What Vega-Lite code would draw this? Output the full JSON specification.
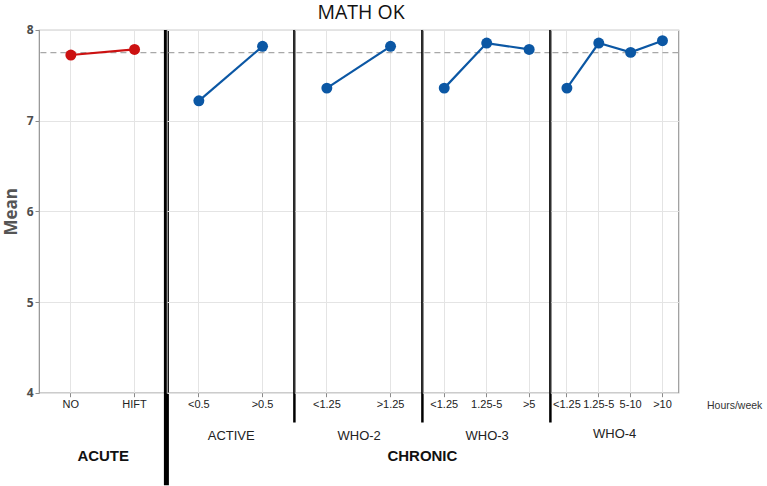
{
  "$schema": "https://vega.github.io/schema/vega-lite/v6.json",
  "padding": {"left": 1, "top": 2, "right": 0, "bottom": 0},
  "background": "white",
  "datasets": {
    "math": [
      {"grp": "ACUTE", "cat": "NO", "mean": 7.724},
      {"grp": "ACUTE", "cat": "HIFT", "mean": 7.786},
      {"grp": "ACTIVE", "cat": "<0.5", "mean": 7.219},
      {"grp": "ACTIVE", "cat": ">0.5", "mean": 7.82},
      {"grp": "WHO-2", "cat": "<1.25", "mean": 7.359},
      {"grp": "WHO-2", "cat": ">1.25", "mean": 7.82},
      {"grp": "WHO-3", "cat": "<1.25", "mean": 7.359},
      {"grp": "WHO-3", "cat": "1.25-5", "mean": 7.856},
      {"grp": "WHO-3", "cat": ">5", "mean": 7.786},
      {"grp": "WHO-4", "cat": "<1.25", "mean": 7.359},
      {"grp": "WHO-4", "cat": "1.25-5", "mean": 7.856},
      {"grp": "WHO-4", "cat": "5-10", "mean": 7.753},
      {"grp": "WHO-4", "cat": ">10", "mean": 7.882}
    ],
    "ref": [{"ref": 7.75}]
  },
  "title": {"text": "MATH OK", "font": "Open Sans", "fontSize": 19.5, "fontWeight": "normal", "color": "#111111", "anchor": "middle", "offset": 0, "dx": -21},
  "spacing": 0,
  "bounds": "flush",
  "config": {
    "view": {"stroke": "#9a9a9a", "strokeWidth": 1.2},
    "axis": {"gridColor": "#e4e4e4", "gridWidth": 1, "domainColor": "#9a9a9a", "tickColor": "#8a8a8a", "tickSize": 4, "labelFont": "Liberation Sans", "labelFontSize": 11, "labelColor": "#222222", "titleFont": "Liberation Sans", "titleFontWeight": "normal", "titleColor": "#222222"}
  },
  "hconcat": [
    {
      "width": 127.4,
      "height": 362.7,
      "layer": [
        {
          "data": {"name": "ref"},
          "mark": {"type": "rule", "strokeDash": [6, 4], "color": "#a8a8a8", "strokeWidth": 1.3},
          "encoding": {"y": {"field": "ref", "type": "quantitative", "title": "Mean"}}
        },
        {
          "data": {"name": "math"},
          "transform": [{"filter": "datum.grp === 'ACUTE'"}],
          "mark": {"type": "line", "color": "#cc1111", "strokeWidth": 2.2},
          "encoding": {
            "x": {"field": "cat", "type": "nominal", "sort": null, "scale": {"type": "band", "paddingInner": 0, "paddingOuter": 0},
              "axis": {"title": "ACUTE", "titleFontWeight": "bold", "titleFontSize": 15, "titleColor": "#111111", "titlePadding": 39, "labelAngle": 0, "grid": true, "labelPadding": 2, "domain": false}},
            "y": {"field": "mean", "type": "quantitative", "scale": {"domain": [4, 8], "nice": false, "zero": false},
              "axis": {"values": [4, 5, 6, 7, 8], "format": "d", "title": "Mean", "grid": true, "labelFont": "Open Sans", "labelFontWeight": "bold", "labelFontSize": 12, "labelColor": "#4d4d4d", "labelPadding": 2, "titleFont": "Open Sans", "titleFontWeight": "bold", "titleFontSize": 17, "titleColor": "#555555", "titlePadding": 6}}
          }
        },
        {
          "data": {"name": "math"},
          "transform": [{"filter": "datum.grp === 'ACUTE'"}],
          "mark": {"type": "point", "filled": true, "size": 120, "color": "#cc1111", "opacity": 1},
          "encoding": {
            "x": {"field": "cat", "type": "nominal", "sort": null},
            "y": {"field": "mean", "type": "quantitative"}
          }
        },
        {
          "data": {"name": "ref"},
          "mark": {"type": "rule", "color": "#000000", "strokeWidth": 5},
          "encoding": {
            "x": {"datum": "HIFT", "bandPosition": 1},
            "y": {"datum": 8},
            "y2": {"datum": 2.98}
          }
        }
      ]
    },
    {
      "width": 127.4,
      "height": 362.7,
      "layer": [
        {"data": {"name": "ref"}, "mark": {"type": "rule", "strokeDash": [6, 4], "color": "#a8a8a8", "strokeWidth": 1.3},
          "encoding": {"y": {"field": "ref", "type": "quantitative", "title": null}}},
        {"data": {"name": "math"}, "transform": [{"filter": "datum.grp === 'ACTIVE'"}],
          "mark": {"type": "line", "color": "#0b57a4", "strokeWidth": 2.2},
          "encoding": {
            "x": {"field": "cat", "type": "nominal", "sort": null, "scale": {"type": "band", "paddingInner": 0, "paddingOuter": 0},
              "axis": {"title": "ACTIVE", "titleFontSize": 13, "titlePadding": 20, "labelAngle": 0, "grid": true, "labelPadding": 2, "domain": false}},
            "y": {"field": "mean", "type": "quantitative", "scale": {"domain": [4, 8], "nice": false, "zero": false},
              "axis": {"values": [4, 5, 6, 7, 8], "title": null, "grid": true, "labels": false, "ticks": false, "domain": false}}
          }},
        {"data": {"name": "math"}, "transform": [{"filter": "datum.grp === 'ACTIVE'"}],
          "mark": {"type": "point", "filled": true, "size": 120, "color": "#0b57a4", "opacity": 1},
          "encoding": {"x": {"field": "cat", "type": "nominal", "sort": null}, "y": {"field": "mean", "type": "quantitative"}}},
        {"data": {"name": "ref"}, "mark": {"type": "rule", "color": "#000000", "strokeWidth": 2.5},
          "encoding": {"x": {"datum": ">0.5", "bandPosition": 1}, "y": {"datum": 8}, "y2": {"datum": 3.67}}}
      ]
    },
    {
      "width": 127.4,
      "height": 362.7,
      "title": {"text": "CHRONIC", "orient": "bottom", "anchor": "end", "align": "center", "baseline": "top", "frame": "group", "offset": 6, "font": "Liberation Sans", "fontSize": 15, "fontWeight": "bold", "color": "#111111"},
      "layer": [
        {"data": {"name": "ref"}, "mark": {"type": "rule", "strokeDash": [6, 4], "color": "#a8a8a8", "strokeWidth": 1.3},
          "encoding": {"y": {"field": "ref", "type": "quantitative", "title": null}}},
        {"data": {"name": "math"}, "transform": [{"filter": "datum.grp === 'WHO-2'"}],
          "mark": {"type": "line", "color": "#0b57a4", "strokeWidth": 2.2},
          "encoding": {
            "x": {"field": "cat", "type": "nominal", "sort": null, "scale": {"type": "band", "paddingInner": 0, "paddingOuter": 0},
              "axis": {"title": "WHO-2", "titleFontSize": 13, "titlePadding": 20, "labelAngle": 0, "grid": true, "labelPadding": 2, "domain": false}},
            "y": {"field": "mean", "type": "quantitative", "scale": {"domain": [4, 8], "nice": false, "zero": false},
              "axis": {"values": [4, 5, 6, 7, 8], "title": null, "grid": true, "labels": false, "ticks": false, "domain": false}}
          }},
        {"data": {"name": "math"}, "transform": [{"filter": "datum.grp === 'WHO-2'"}],
          "mark": {"type": "point", "filled": true, "size": 120, "color": "#0b57a4", "opacity": 1},
          "encoding": {"x": {"field": "cat", "type": "nominal", "sort": null}, "y": {"field": "mean", "type": "quantitative"}}},
        {"data": {"name": "ref"}, "mark": {"type": "rule", "color": "#000000", "strokeWidth": 2.5},
          "encoding": {"x": {"datum": ">1.25", "bandPosition": 1}, "y": {"datum": 8}, "y2": {"datum": 3.67}}}
      ]
    },
    {
      "width": 127.4,
      "height": 362.7,
      "layer": [
        {"data": {"name": "ref"}, "mark": {"type": "rule", "strokeDash": [6, 4], "color": "#a8a8a8", "strokeWidth": 1.3},
          "encoding": {"y": {"field": "ref", "type": "quantitative", "title": null}}},
        {"data": {"name": "math"}, "transform": [{"filter": "datum.grp === 'WHO-3'"}],
          "mark": {"type": "line", "color": "#0b57a4", "strokeWidth": 2.2},
          "encoding": {
            "x": {"field": "cat", "type": "nominal", "sort": null, "scale": {"type": "band", "paddingInner": 0, "paddingOuter": 0},
              "axis": {"title": "WHO-3", "titleFontSize": 13, "titlePadding": 20, "labelAngle": 0, "grid": true, "labelPadding": 2, "domain": false}},
            "y": {"field": "mean", "type": "quantitative", "scale": {"domain": [4, 8], "nice": false, "zero": false},
              "axis": {"values": [4, 5, 6, 7, 8], "title": null, "grid": true, "labels": false, "ticks": false, "domain": false}}
          }},
        {"data": {"name": "math"}, "transform": [{"filter": "datum.grp === 'WHO-3'"}],
          "mark": {"type": "point", "filled": true, "size": 120, "color": "#0b57a4", "opacity": 1},
          "encoding": {"x": {"field": "cat", "type": "nominal", "sort": null}, "y": {"field": "mean", "type": "quantitative"}}},
        {"data": {"name": "ref"}, "mark": {"type": "rule", "color": "#000000", "strokeWidth": 2.5},
          "encoding": {"x": {"datum": ">5", "bandPosition": 1}, "y": {"datum": 8}, "y2": {"datum": 3.67}}}
      ]
    },
    {
      "width": 127.4,
      "height": 362.7,
      "title": {"text": "WHO-4", "orient": "bottom", "anchor": "middle", "baseline": "top", "frame": "group", "offset": 17, "font": "Liberation Sans", "fontSize": 13, "fontWeight": "normal", "color": "#222222"},
      "layer": [
        {"data": {"name": "ref"}, "mark": {"type": "rule", "strokeDash": [6, 4], "color": "#a8a8a8", "strokeWidth": 1.3},
          "encoding": {"y": {"field": "ref", "type": "quantitative", "title": null}}},
        {"data": {"name": "math"}, "transform": [{"filter": "datum.grp === 'WHO-4'"}],
          "mark": {"type": "line", "color": "#0b57a4", "strokeWidth": 2.2},
          "encoding": {
            "x": {"field": "cat", "type": "nominal", "sort": null, "scale": {"type": "band", "paddingInner": 0, "paddingOuter": 0},
              "axis": {"title": "Hours/week", "titleFontSize": 10.5, "titleColor": "#333333", "titleX": 155.5, "titleY": 8, "titleAlign": "left", "titleBaseline": "top", "titleAngle": 0, "labelAngle": 0, "grid": true, "labelPadding": 2, "domain": false}},
            "y": {"field": "mean", "type": "quantitative", "scale": {"domain": [4, 8], "nice": false, "zero": false},
              "axis": {"values": [4, 5, 6, 7, 8], "title": null, "grid": true, "labels": false, "ticks": false, "domain": false}}
          }},
        {"data": {"name": "math"}, "transform": [{"filter": "datum.grp === 'WHO-4'"}],
          "mark": {"type": "point", "filled": true, "size": 120, "color": "#0b57a4", "opacity": 1},
          "encoding": {"x": {"field": "cat", "type": "nominal", "sort": null}, "y": {"field": "mean", "type": "quantitative"}}}
      ]
    }
  ]
}
